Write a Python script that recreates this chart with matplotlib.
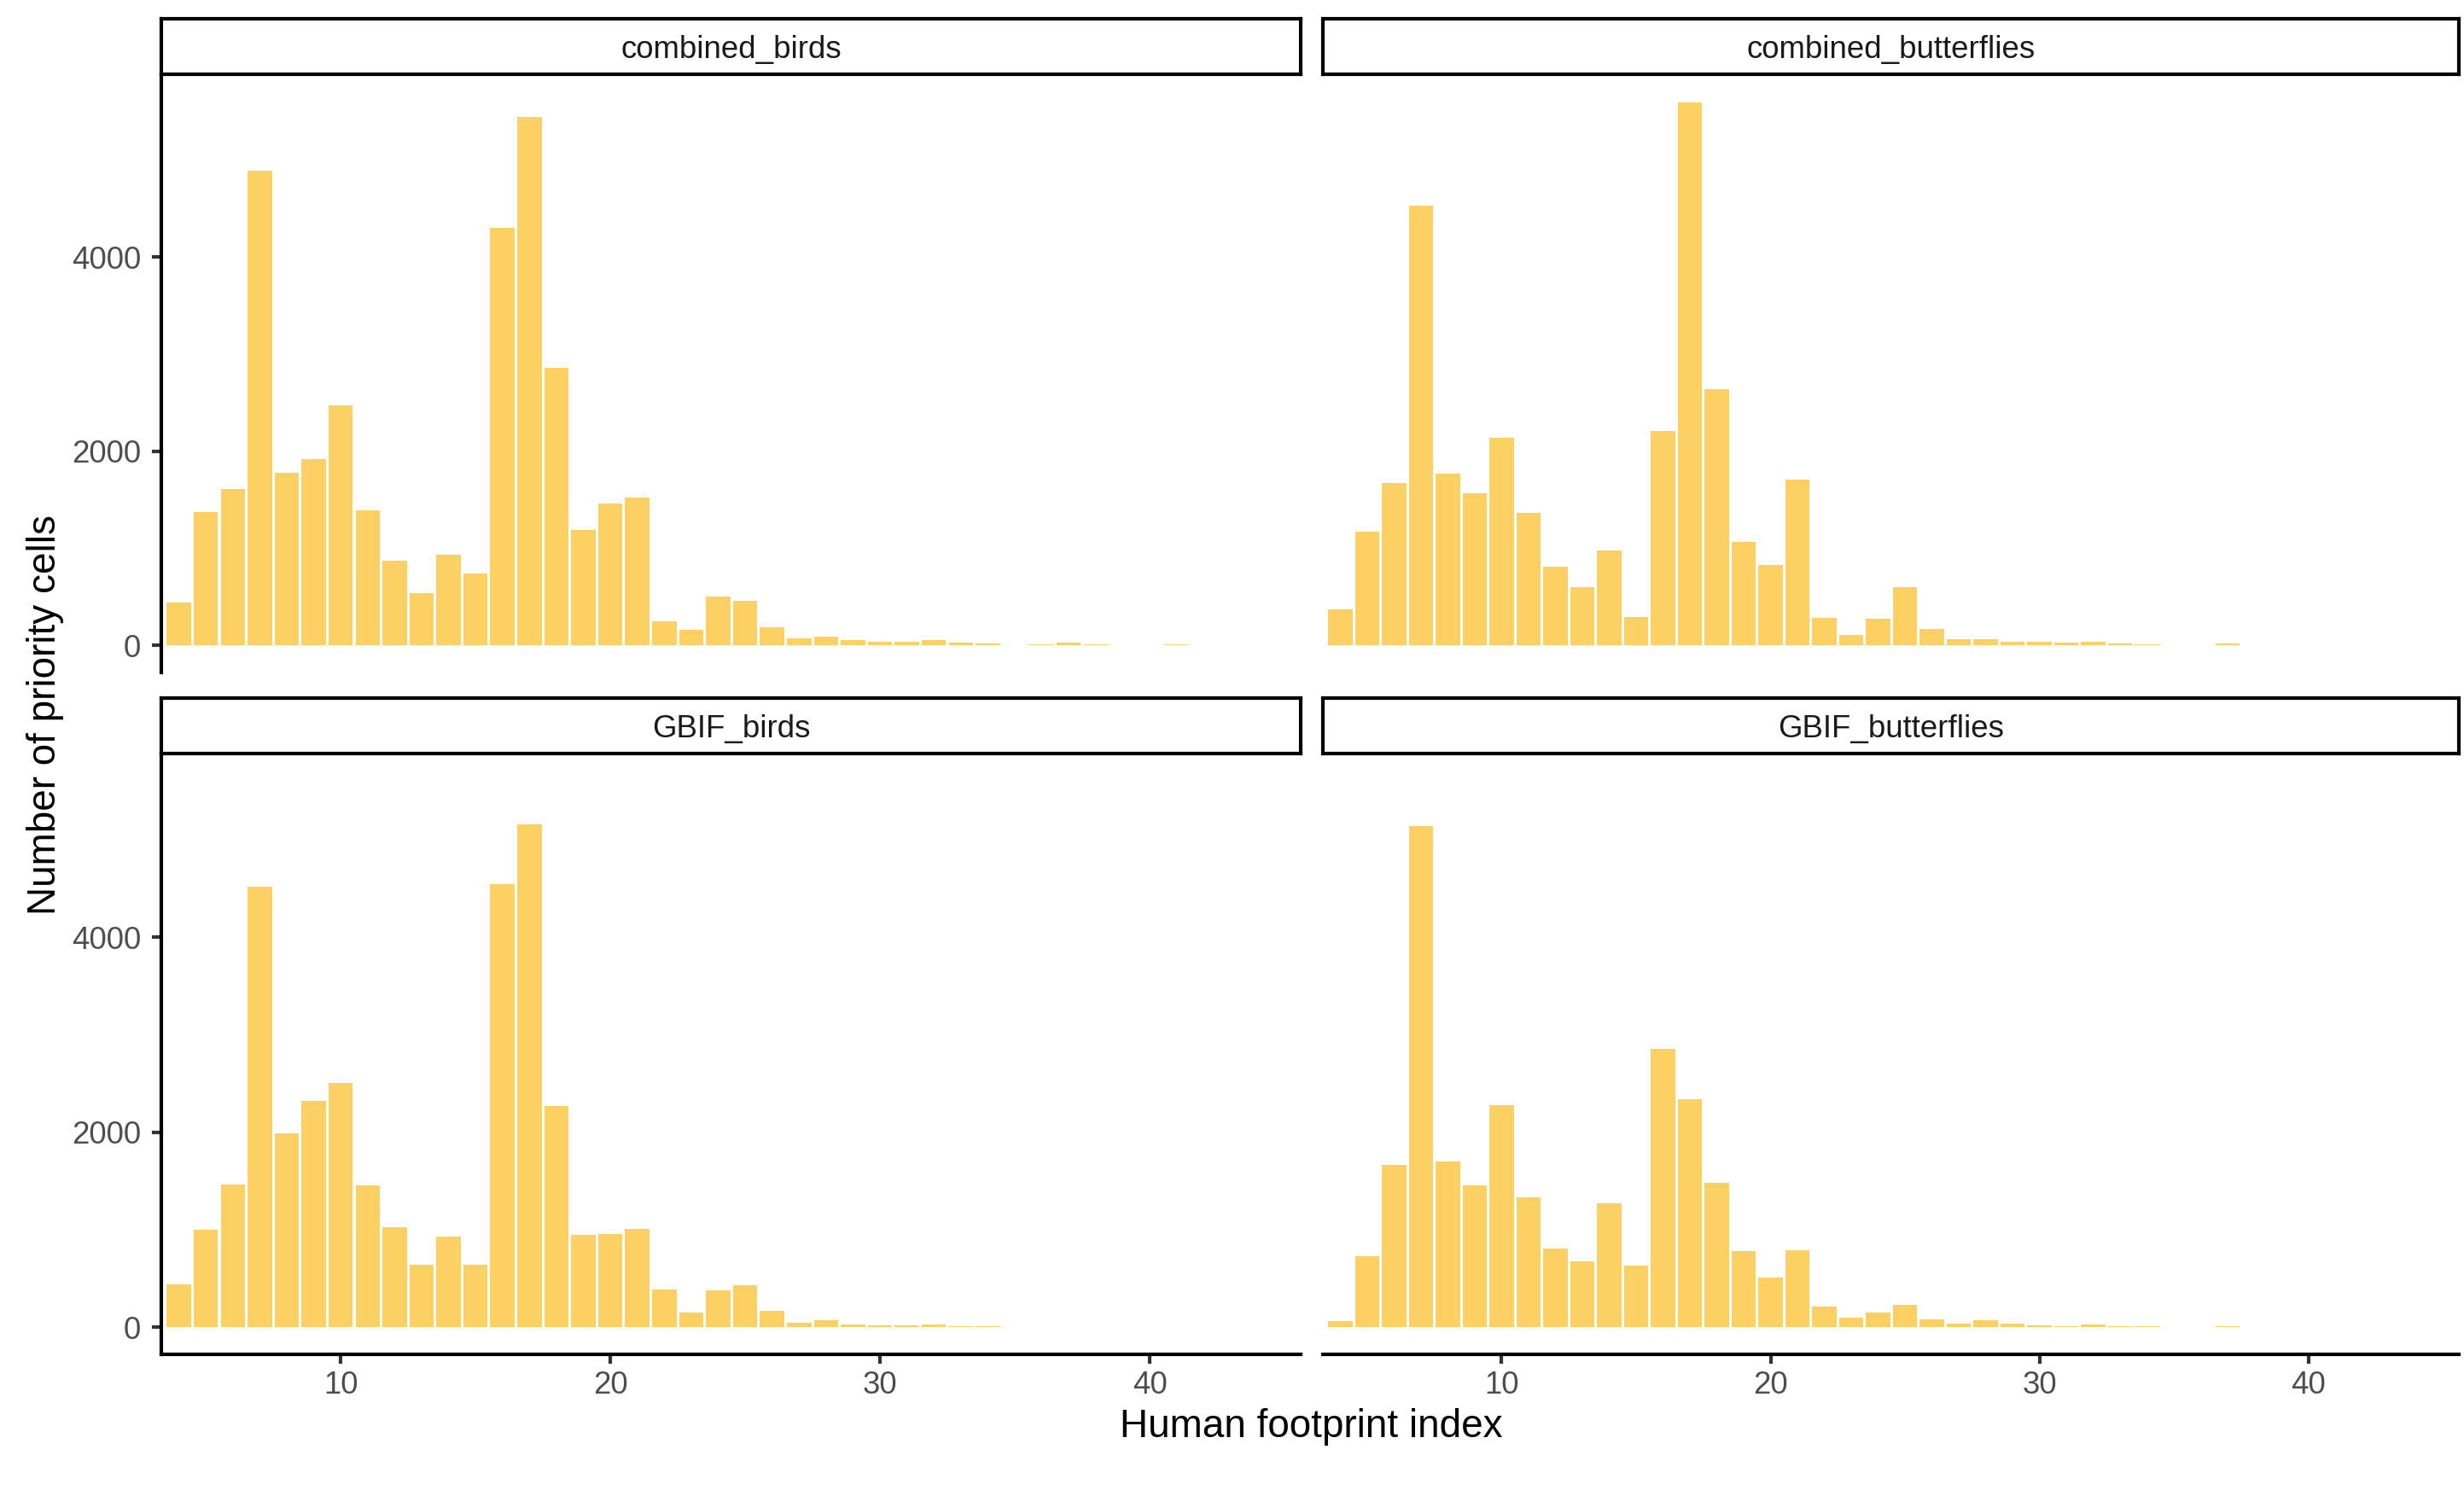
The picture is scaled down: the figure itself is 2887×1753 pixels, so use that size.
import numpy as np
import matplotlib.pyplot as plt

plt.rcParams['font.family'] = ['Liberation Sans', 'DejaVu Sans']

# bin centres of the human footprint index (binwidth 1)
hfp = list(range(4, 46))

combined_birds = [439, 1376, 1614, 4889, 1779, 1923, 2471, 1388, 869, 539,
                  934, 740, 4302, 5448, 2857, 1191, 1465, 1521, 250, 157,
                  503, 455, 185, 70, 90, 56, 40, 36, 56, 24,
                  16, 0, 12, 24, 6, 4, 0, 12, 4, 0, 2, 0]
combined_butterflies = [374, 1175, 1674, 4535, 1771, 1565, 2141, 1368, 809, 604,
                        978, 294, 2205, 5597, 2640, 1066, 829, 1710, 282, 109,
                        274, 596, 165, 60, 64, 40, 36, 28, 40, 20,
                        12, 0, 4, 16, 4, 0, 2, 2, 2, 2, 2, 0]
GBIF_birds = [434, 996, 1466, 4518, 1992, 2317, 2502, 1450, 1024, 643,
              932, 643, 4542, 5161, 2265, 948, 956, 1004, 382, 145,
              373, 426, 165, 46, 68, 28, 20, 20, 24, 12,
              6, 0, 3, 4, 3, 0, 2, 2, 0, 0, 0, 0]
GBIF_butterflies = [64, 723, 1667, 5140, 1699, 1458, 2277, 1333, 807, 679,
                    1273, 635, 2855, 2337, 1482, 779, 506, 787, 209, 96,
                    153, 229, 76, 36, 72, 32, 20, 12, 28, 12,
                    8, 0, 2, 12, 0, 2, 0, 0, 0, 0, 0, 0]

x_ticks = [10, 20, 30, 40]
y_ticks = [0, 2000, 4000]

fill = '#FDD063'
W, H = 2887, 1753

fig = plt.figure(figsize=(W / 300, H / 300), dpi=300)

# panel boxes in pixels: left, top, right, bottom
boxes = {
    'combined_birds': (189, 88, 1524, 788),
    'combined_butterflies': (1550, 88, 2881, 788),
    'GBIF_birds': (189, 884, 1524, 1587),
    'GBIF_butterflies': (1550, 884, 2881, 1587),
}
data = {
    'combined_birds': combined_birds,
    'combined_butterflies': combined_butterflies,
    'GBIF_birds': GBIF_birds,
    'GBIF_butterflies': GBIF_butterflies,
}

ymax = max(max(v) for v in data.values())
strip_h = 65

for name, (l, t, r, b) in boxes.items():
    ax = fig.add_axes([l / W, 1 - b / H, (r - l) / W, (b - t) / H])
    # white gaps between bins, like ggplot's white outline
    ax.bar(hfp, data[name], width=0.9, color=fill, linewidth=0)
    ax.set_xlim(3.35, 45.6)
    ax.set_ylim(-0.05 * ymax, 1.05 * ymax)
    ax.set_xticks(x_ticks)
    ax.set_yticks(y_ticks)
    ax.spines['top'].set_visible(False)
    ax.spines['right'].set_visible(False)
    for s in ['left', 'bottom']:
        ax.spines[s].set_linewidth(1.0)
        ax.spines[s].set_color('black')
    ax.tick_params(length=2.75, width=1.0, color='#333333', labelsize=8.8,
                   labelcolor='#4D4D4D')
    ax.tick_params(axis='y', pad=3)
    ax.tick_params(axis='x', pad=1.8)
    left_col = l < 1000
    bottom_row = t > 500
    if not left_col:
        ax.spines['left'].set_visible(False)
        ax.tick_params(axis='y', left=False, labelleft=False)
    if not bottom_row:
        ax.spines['bottom'].set_visible(False)
        ax.tick_params(axis='x', bottom=False, labelbottom=False)

    # facet strip
    sax = fig.add_axes([l / W, 1 - (t - 1) / H, (r - l) / W, strip_h / H])
    sax.set_xticks([])
    sax.set_yticks([])
    for s in sax.spines.values():
        s.set_linewidth(1.0)
        s.set_color('black')
    sax.text(0.5, 0.44, name, ha='center', va='center', fontsize=8.8,
             color='#1A1A1A', transform=sax.transAxes)

fig.text(53 / W, 1 - 838 / H, 'Number of priority cells', rotation=90,
         ha='center', va='center', fontsize=11)
fig.text(1536 / W, 1 - 1672 / H, 'Human footprint index',
         ha='center', va='center', fontsize=11)

fig.savefig('out.png', dpi=300, facecolor='white')
